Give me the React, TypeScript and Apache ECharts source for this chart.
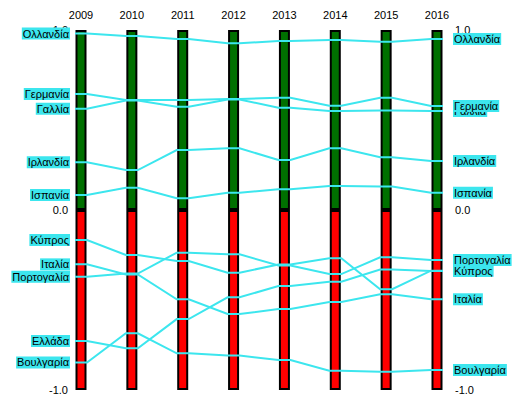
import React, { useEffect, useRef } from 'react';
import * as echarts from 'echarts';

const years = ['2009', '2010', '2011', '2012', '2013', '2014', '2015', '2016'];

// drawing order: later entries are drawn on top
const countries = [
  'Ολλανδία', 'Γαλλία', 'Γερμανία', 'Ιρλανδία', 'Ισπανία',
  'Ελλάδα', 'Πορτογαλία', 'Κύπρος', 'Ιταλία', 'Βουλγαρία',
];

const netherlands = [0.98, 0.967, 0.95, 0.926, 0.939, 0.944, 0.935, 0.95];
const france = [0.563, 0.608, 0.574, 0.614, 0.568, 0.55, 0.553, 0.55];
const germany = [0.644, 0.611, 0.611, 0.617, 0.624, 0.579, 0.624, 0.578];
const ireland = [0.265, 0.222, 0.333, 0.343, 0.278, 0.343, 0.293, 0.272];
const spain = [0.083, 0.124, 0.065, 0.096, 0.115, 0.133, 0.13, 0.096];
const greece = [-0.728, -0.768, -0.606, -0.485, -0.422, -0.398, -0.331, -0.339];
const portugal = [-0.371, -0.353, -0.237, -0.246, -0.308, -0.356, -0.263, -0.278];
const cyprus = [-0.167, -0.25, -0.283, -0.348, -0.303, -0.268, -0.44, -0.337];
const italy = [-0.302, -0.358, -0.496, -0.578, -0.55, -0.511, -0.468, -0.496];
const bulgaria = [-0.847, -0.685, -0.796, -0.809, -0.833, -0.893, -0.898, -0.889];

const seriesValues = [netherlands, france, germany, ireland, spain, greece, portugal, cyprus, italy, bulgaria];

const upperRange = [1, 1, 1, 1, 1, 1, 1, 1];
const lowerRange = [-1, -1, -1, -1, -1, -1, -1, -1];

const CYAN = '#3ce6ee';
const FONT = 'Liberation Sans, Arial, sans-serif';
const HALF = 6;

export default function App() {
  const ref = useRef<HTMLDivElement>(null);
  useEffect(() => {
    const chart = echarts.init(ref.current!, undefined, { renderer: 'svg' });
    const yAxisCommon = {
      type: 'value' as const,
      min: -1,
      max: 1,
      interval: 1,
      axisLine: { show: false },
      axisTick: { show: false },
      splitLine: { show: false },
      axisLabel: {
        color: '#000',
        fontSize: 11,
        fontFamily: FONT,
        formatter: (v: number) => v.toFixed(1),
      },
    };
    chart.setOption({
      animation: false,
      backgroundColor: '#fff',
      grid: { left: 81, right: 85, top: 30, bottom: 6 },
      xAxis: {
        type: 'category',
        data: years,
        position: 'top',
        boundaryGap: false,
        axisLine: { show: false },
        axisTick: { show: false },
        splitLine: { show: false },
        axisLabel: { color: '#000', fontSize: 11, fontFamily: FONT, margin: 10 },
      },
      yAxis: [
        { ...yAxisCommon, position: 'left', axisLabel: { ...yAxisCommon.axisLabel, margin: 13 } },
        { ...yAxisCommon, position: 'right', axisLabel: { ...yAxisCommon.axisLabel, margin: 18 } },
      ],
      series: [
        {
          type: 'bar',
          data: upperRange,
          barWidth: 11,
          barGap: '-100%',
          itemStyle: { color: '#007000', borderColor: '#000', borderWidth: 2 },
          z: 1,
        },
        {
          type: 'bar',
          data: lowerRange,
          barWidth: 11,
          barGap: '-100%',
          itemStyle: { color: '#ff0000', borderColor: '#000', borderWidth: 2 },
          z: 1,
        },
        {
          type: 'custom',
          coordinateSystem: 'cartesian2d',
          clip: false,
          z: 5,
          data: countries.map((name, i) => ({ name, value: [0, seriesValues[i][0]] })),
          renderItem: (params: any, api: any) => {
            const i = params.dataIndex;
            const vals = seriesValues[i];
            const pts: number[][] = [];
            vals.forEach((v, k) => {
              const [x, y] = api.coord([k, v]);
              pts.push([x - HALF, y], [x + HALF, y]);
            });
            const [x0, y0] = api.coord([0, vals[0]]);
            const [x1, y1] = api.coord([years.length - 1, vals[vals.length - 1]]);
            const textStyle = {
              fill: '#000',
              fontSize: 11,
              fontFamily: FONT,
              backgroundColor: CYAN,
              padding: [1, 1, 0, 1],
              verticalAlign: 'middle',
            };
            return {
              type: 'group',
              children: [
                {
                  type: 'polyline',
                  shape: { points: pts },
                  style: { stroke: CYAN, lineWidth: 2, fill: null },
                },
                {
                  type: 'text',
                  x: x0 - 11,
                  y: y0,
                  style: { ...textStyle, text: countries[i], align: 'right' },
                },
                {
                  type: 'text',
                  x: x1 + 16,
                  y: y1,
                  style: { ...textStyle, text: countries[i], align: 'left' },
                },
              ],
            };
          },
        },
      ],
    });
    return () => chart.dispose();
  }, []);
  return <div ref={ref} style={{ position: 'fixed', left: 0, top: 0, width: 522, height: 396 }} />;
}
